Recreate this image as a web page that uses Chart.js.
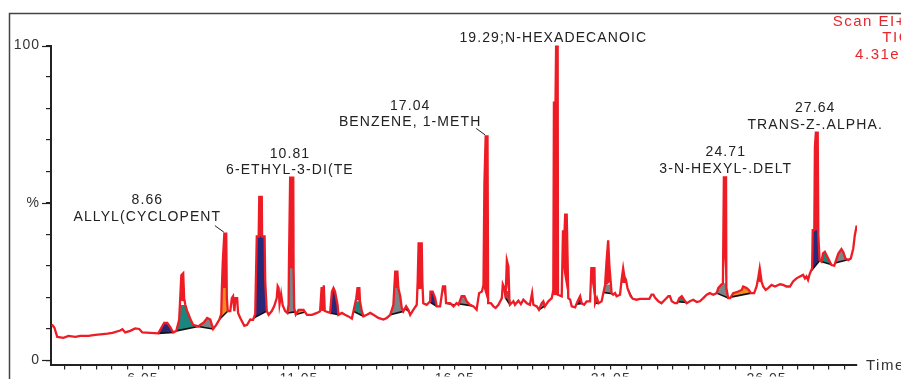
<!DOCTYPE html>
<html>
<head>
<meta charset="utf-8">
<script src="https://cdn.jsdelivr.net/npm/chart.js@4/dist/chart.umd.min.js"></script>
<style>
  html, body { margin: 0; padding: 0; background: #fff; }
  #chart-1 { display: block; }
</style>
</head>
<body>
<canvas id="chart-1" width="901" height="379"></canvas>
<script>
// TIC trace: [retention time (min), relative abundance (%)]
const trace = [
  [3.13,11.3],[3.21,10.3],[3.30,7.4],[3.50,7.1],[3.66,7.7],[3.88,7.4],[4.04,7.7],[4.30,7.7],[4.52,8.0],[4.68,8.2],[4.91,8.4],[5.07,8.7],[5.32,9.4],[5.39,9.8],[5.48,8.8],[5.64,9.3],[5.80,10.1],[5.93,9.9],[6.03,8.8],[6.54,8.5],
  [6.64,10.3],[6.73,11.8],[6.83,11.8],[6.92,10.6],[7.02,8.8],[7.12,9.3],[7.21,12.8],[7.26,22.9],[7.28,27.0],[7.34,27.6],[7.37,19.7],[7.41,17.5],[7.47,15.6],[7.57,13.1],[7.66,11.2],[7.82,10.7],
  [8.01,12.1],[8.11,13.4],[8.21,12.9],[8.30,9.9],[8.40,11.2],[8.50,12.9],[8.56,14.7],[8.58,22.9],[8.61,31.4],[8.66,40.2],[8.72,40.2],[8.74,19.7],[8.77,15.6],[8.85,15.6],[8.90,19.7],[8.94,20.3],[8.98,15.6],[9.02,19.7],[9.07,19.7],[9.10,15.0],[9.17,13.4],[9.30,10.9],[9.39,11.2],[9.49,12.9],[9.58,12.8],
  [9.65,14.7],[9.70,39.3],[9.76,39.3],[9.78,51.9],[9.86,51.9],[9.87,39.3],[9.95,39.3],[9.97,25.1],[10.02,15.6],[10.08,14.4],[10.18,15.6],[10.26,17.2],[10.34,19.7],[10.37,23.5],[10.40,22.9],[10.43,17.8],[10.48,21.0],[10.53,17.5],[10.61,15.6],[10.68,15.0],
  [10.72,17.6],[10.73,29.2],[10.77,58.0],[10.87,58.0],[10.88,29.2],[10.90,16.6],[10.95,14.5],[11.04,16.0],[11.20,16.0],[11.31,14.4],[11.47,14.4],[11.63,15.0],[11.73,15.5],[11.78,23.2],[11.81,15.6],[11.85,23.8],[11.88,15.6],[12.05,15.0],
  [12.11,21.8],[12.16,22.9],[12.21,21.8],[12.29,17.6],[12.32,14.4],[12.43,15.0],[12.53,14.4],[12.64,13.9],[12.75,13.2],[12.89,19.7],[12.93,22.9],[12.99,22.9],[13.01,18.7],[13.07,15.5],[13.12,13.9],[13.23,14.4],[13.34,15.0],[13.44,14.4],[13.60,13.4],[13.76,12.9],[13.87,13.4],[13.98,14.4],
  [14.08,17.6],[14.14,28.1],[14.21,28.1],[14.24,22.9],[14.30,20.3],[14.35,16.6],[14.40,15.5],[14.49,17.1],[14.56,16.0],[14.62,14.4],[14.72,16.0],[14.83,17.6],[14.86,25.0],[14.89,37.1],[14.99,37.1],[15.01,25.0],[15.04,18.1],[15.15,17.6],
  [15.26,18.7],[15.27,21.8],[15.34,21.8],[15.42,19.7],[15.47,17.1],[15.58,17.1],[15.67,23.4],[15.74,23.4],[15.77,18.1],[15.90,18.1],[16.01,17.1],[16.11,18.1],[16.17,17.6],[16.27,20.3],[16.36,20.3],[16.43,18.7],[16.54,17.6],[16.65,17.1],[16.75,16.0],
  [16.83,21.3],[16.92,21.8],[16.97,23.9],[17.00,56.0],[17.04,71.1],[17.10,71.1],[17.12,18.1],[17.21,18.1],[17.29,17.1],[17.36,16.6],[17.45,17.6],[17.56,19.7],[17.59,24.1],[17.64,22.9],[17.68,19.7],[17.72,31.7],[17.77,29.7],[17.80,19.7],[17.82,17.6],
  [17.93,18.7],[17.98,17.6],[18.09,18.9],[18.17,17.8],[18.25,19.2],[18.36,18.1],[18.46,17.6],[18.53,21.3],[18.57,17.6],[18.68,17.1],[18.75,16.0],[18.84,18.1],[18.89,18.7],[18.94,17.1],[19.05,18.7],[19.16,19.7],
  [19.21,22.3],[19.23,81.8],[19.28,81.8],[19.30,100],[19.35,100],[19.36,20.8],[19.48,20.3],[19.52,40.9],[19.57,40.9],[19.59,46.2],[19.64,46.2],[19.67,31.4],[19.69,19.7],[19.75,19.2],[19.80,17.1],[19.91,16.8],[19.99,18.7],[20.07,20.3],[20.12,18.1],[20.20,17.6],[20.28,18.7],[20.39,18.7],
  [20.43,29.2],[20.53,29.2],[20.55,18.1],[20.61,19.7],[20.66,18.1],[20.76,18.7],[20.87,23.9],[20.92,31.8],[20.97,38.1],[21.01,29.7],[21.05,25.0],[21.08,21.3],[21.13,20.8],[21.19,21.3],[21.24,20.3],[21.35,20.8],[21.40,25.5],[21.45,29.2],[21.49,26.6],[21.54,25.5],[21.59,22.9],[21.65,21.3],[21.69,20.3],[21.76,19.5],[21.88,19.2],[21.99,19.5],
  [22.29,19.5],[22.36,20.8],[22.42,20.8],[22.47,19.9],[22.58,18.7],[22.68,18.1],[22.79,19.2],[22.90,20.3],[22.95,20.3],[23.01,18.7],[23.11,18.1],[23.18,18.1],[23.25,19.7],[23.33,20.3],[23.40,19.2],[23.49,18.1],[23.59,18.7],[23.70,19.2],[23.81,18.5],[23.91,18.7],[24.02,19.7],[24.13,20.8],[24.23,21.3],[24.34,20.8],[24.45,21.3],
  [24.50,22.9],[24.59,23.9],[24.65,24.4],[24.68,58.1],[24.75,58.1],[24.76,22.9],[24.82,19.7],[24.88,19.7],[24.98,21.3],[25.14,21.8],[25.25,22.3],[25.30,23.4],[25.41,22.9],[25.48,22.3],[25.55,21.3],[25.65,21.3],[25.73,23.4],[25.78,26.0],[25.83,29.2],[25.89,25.0],[25.94,23.4],[26.02,22.3],
  [26.10,22.9],[26.21,23.9],[26.32,23.4],[26.48,24.1],[26.58,23.9],[26.69,23.4],[26.80,23.4],[26.90,25.0],[27.01,26.0],[27.12,26.6],[27.22,27.1],[27.28,26.0],[27.33,26.6],[27.38,25.5],[27.44,27.6],[27.51,29.2],
  [27.53,41.3],[27.58,41.3],[27.60,67.7],[27.63,72.3],[27.69,72.3],[27.71,39.7],[27.75,31.8],[27.81,31.3],[27.86,33.9],[27.92,34.4],[27.97,33.4],[28.05,31.8],[28.13,30.2],[28.22,30.0],[28.35,33.9],[28.45,35.3],[28.51,34.4],[28.58,32.3],[28.67,31.8],[28.75,32.3],[28.83,35.5],[28.88,39.7],[28.94,42.8]
];

// integrated peaks (start / end time, fill colour, fill cap in %)
const peakFrom   = [6.54, 7.12, 7.82, 8.50, 9.60, 10.68, 10.95, 12.05, 12.80, 13.98, 14.45, 15.24, 15.77, 16.10, 17.68, 18.75, 19.95, 20.55, 20.82, 21.62, 23.20, 24.45, 24.90, 27.46, 27.80, 28.25];
const peakTo     = [7.02, 7.82, 8.30, 8.77, 10.02, 10.93, 11.25, 12.32, 13.12, 14.40, 14.58, 15.47, 16.05, 16.62, 17.82, 18.96, 20.14, 20.66, 21.10, 21.74, 23.47, 24.84, 25.55, 27.76, 28.12, 28.65];
const peakColour = ['navy','teal','grey','orange','navy','grey','orange','navy','teal','grey','orange','navy','teal','grey','teal','grey','navy','teal','grey','navy','teal','grey','orange','navy','teal','grey'];
const peakCap    = [100, 17.5, 100, 22.9, 39.3, 29.2, 100, 21.8, 18.7, 22.9, 100, 21.8, 19.5, 100, 22, 100, 100, 100, 24, 100, 100, 24.4, 100, 41.3, 100, 100];

// narrow spikes that print as solid red (start / end time)
const spikeFrom = [7.24, 8.57, 8.89, 9.01, 9.66, 10.36, 10.47, 10.72, 11.77, 11.84, 12.10, 12.88, 14.11, 14.85, 15.26, 15.66, 16.96, 17.58, 17.70, 19.18, 19.50, 20.42, 20.86, 21.39, 24.66, 25.76, 27.51];
const spikeTo   = [7.39, 8.75, 8.96, 9.08, 9.98, 10.42, 10.50, 10.89, 11.80, 11.87, 12.22, 13.01, 14.25, 15.02, 15.43, 15.76, 17.12, 17.65, 17.80, 19.40, 19.69, 20.55, 21.05, 21.56, 24.77, 25.90, 27.73];

// labelled peaks
const labelTimes = [8.66, 10.81, 17.04, 19.29, 24.71, 27.64];
const labelTops  = [40.2, 58.0, 71.1, 100, 58.1, 72.3];
const labelNames = ['ALLYL(CYCLOPENT', '6-ETHYL-3-DI(TE', 'BENZENE, 1-METH', 'N-HEXADECANOIC', '3-N-HEXYL-.DELT', 'TRANS-Z-.ALPHA.'];

const xTickLabels = ['6.05', '11.05', '16.05', '21.05', '26.05'];
const yTickValues = [0, 10, 20, 30, 40, 50, 60, 70, 80, 90, 100];
const yTickLabels = {0: '0', 50: '%', 100: '100'};
const headerLines = ['Scan EI+', 'TIC', '4.31e7'];

const colours = { navy: '#28287a', teal: '#18877e', grey: '#7d8486', orange: '#f28c1e' };
const red = '#ee1c25';
const font = '"Liberation Sans", Arial, sans-serif';
// a dash with no gap draws solid, and keeps Chart.js off its pixel-merging fast path
const solid = [4000, 0];

function valueAt(t) {
  for (let i = 1; i < trace.length; i++) {
    if (trace[i][0] >= t) {
      const [t0, v0] = trace[i - 1], [t1, v1] = trace[i];
      return v0 + (v1 - v0) * (t - t0) / (t1 - t0);
    }
  }
  return trace[trace.length - 1][1];
}

// datasets: 0 = trace, then area + base pairs
const datasets = [{
  data: trace.map(p => ({x: p[0], y: p[1]})),
  borderColor: red, borderWidth: 2.3, borderDash: solid, pointRadius: 0, fill: false, order: 0
}];

function addArea(from, to, cap, colour, baseLine, order) {
  const top = [{x: from, y: Math.min(valueAt(from), cap)}];
  trace.forEach(p => { if (p[0] > from && p[0] < to) top.push({x: p[0], y: Math.min(p[1], cap)}); });
  top.push({x: to, y: Math.min(valueAt(to), cap)});
  const baseIndex = datasets.length + 1;
  datasets.push({
    data: top, borderWidth: 0, borderColor: 'rgba(0,0,0,0)', borderDash: solid, pointRadius: 0,
    backgroundColor: colour, fill: baseIndex, order: order
  });
  datasets.push({
    data: [{x: from, y: valueAt(from)}, {x: to, y: valueAt(to)}],
    borderColor: baseLine ? '#111' : 'rgba(0,0,0,0)', borderWidth: baseLine ? 1.6 : 0, borderDash: solid,
    pointRadius: 0, fill: false, order: baseLine ? 1 : order
  });
}
spikeFrom.forEach((from, i) => addArea(from, spikeTo[i], 100, red, false, 3));
peakFrom.forEach((from, i) => addArea(from, peakTo[i], peakCap[i], colours[peakColour[i]], true, 2));

const xTicks = [];
for (let t = 3.55; t <= 28.95; t += 0.5) xTicks.push(Math.round(t * 100) / 100);

// frame, header, peak labels
const decorations = {
  id: 'decorations',
  beforeDraw(chart) {
    const ctx = chart.ctx;
    ctx.save();
    ctx.fillStyle = '#fff';
    ctx.fillRect(0, 0, chart.width, chart.height);
    ctx.restore();
    ctx.letterSpacing = '1px';
  },
  afterDraw(chart) {
    const ctx = chart.ctx, xs = chart.scales.x, ys = chart.scales.y;
    ctx.save();
    ctx.strokeStyle = '#444';
    ctx.lineWidth = 1.5;
    ctx.strokeRect(9.5, 13.5, 1000, 1000);

    // longer ticks at the labelled y values
    ctx.strokeStyle = '#222';
    ctx.lineWidth = 1.2;
    Object.keys(yTickLabels).forEach(v => {
      const y = Math.round(ys.getPixelForValue(Number(v))) + 0.5;
      ctx.beginPath();
      ctx.moveTo(xs.left - 9, y);
      ctx.lineTo(xs.left, y);
      ctx.stroke();
    });

    ctx.fillStyle = '#e8262c';
    ctx.font = '15px ' + font;
    ctx.letterSpacing = '1.5px';
    ctx.textAlign = 'right';
    ctx.textBaseline = 'middle';
    ctx.fillText(headerLines[0], 906, 21.5);
    ctx.fillText(headerLines[1], 911, 38);
    ctx.fillText(headerLines[2], 910, 54.5);

    ctx.fillStyle = '#333';
    ctx.textAlign = 'left';
    ctx.fillText('Time', 866, 366);

    // label placement relative to the peak top: [dx, dy of name line]
    const shift = [[-77, -17], [-1.5, -7.5], [-75.5, -14], [-2.5, -7.7], [1, -8.3], [-1, -8]];
    ctx.fillStyle = '#222';
    ctx.strokeStyle = '#222';
    ctx.lineWidth = 1;
    ctx.font = '14px ' + font;
    ctx.letterSpacing = '1.1px';
    ctx.textAlign = 'center';
    labelTimes.forEach((t, i) => {
      const px = xs.getPixelForValue(t), py = ys.getPixelForValue(labelTops[i]);
      const cx = px + shift[i][0], cy = py + shift[i][1];
      if (labelTimes[i] === 19.29) {
        ctx.fillText(t.toFixed(2) + ';' + labelNames[i], cx, cy);
        return;
      }
      ctx.fillText(labelNames[i], cx, cy);
      ctx.fillText(t.toFixed(2), cx, cy - 16.5);
      if (shift[i][0] < -20) {
        ctx.beginPath();
        ctx.moveTo(px - 9.5, py - 8);
        ctx.lineTo(px - 0.5, py - 1.5);
        ctx.stroke();
      }
    });
    ctx.restore();
  }
};

new Chart(document.getElementById('chart-1'), {
  type: 'line',
  data: { datasets: datasets },
  plugins: [decorations],
  options: {
    responsive: false,
    animation: false,
    events: [],
    layout: { padding: { left: 0, right: 44, top: 45.5, bottom: 0 } },
    plugins: { legend: { display: false }, tooltip: { enabled: false } },
    elements: { line: { tension: 0 } },
    scales: {
      x: {
        type: 'linear', min: 3.10, max: 28.95,
        afterBuildTicks: s => { s.ticks = xTicks.map(v => ({value: v})); },
        afterFit: s => { s.height = 12; },
        grid: { drawOnChartArea: false, drawTicks: true, tickLength: 5, color: '#222', lineWidth: 1.2 },
        border: { display: true, color: '#222', width: 2 },
        ticks: {
          autoSkip: false, maxRotation: 0, padding: 1, color: '#333',
          font: { family: font, size: 14 },
          callback: v => { const s = Number(v).toFixed(2); return xTickLabels.includes(s) ? s : ''; }
        }
      },
      y: {
        type: 'linear', min: -1.42, max: 100,
        afterBuildTicks: s => { s.ticks = yTickValues.map(v => ({value: v})); },
        afterFit: s => { s.width = 51; },
        grid: { drawOnChartArea: false, drawTicks: true, tickLength: 5, color: '#222', lineWidth: 1.2 },
        border: { display: true, color: '#222', width: 2 },
        ticks: {
          padding: 6, color: '#333',
          font: { family: font, size: 14 },
          callback: v => yTickLabels[v] !== undefined ? yTickLabels[v] : ''
        }
      }
    }
  }
});
</script>
</body>
</html>
